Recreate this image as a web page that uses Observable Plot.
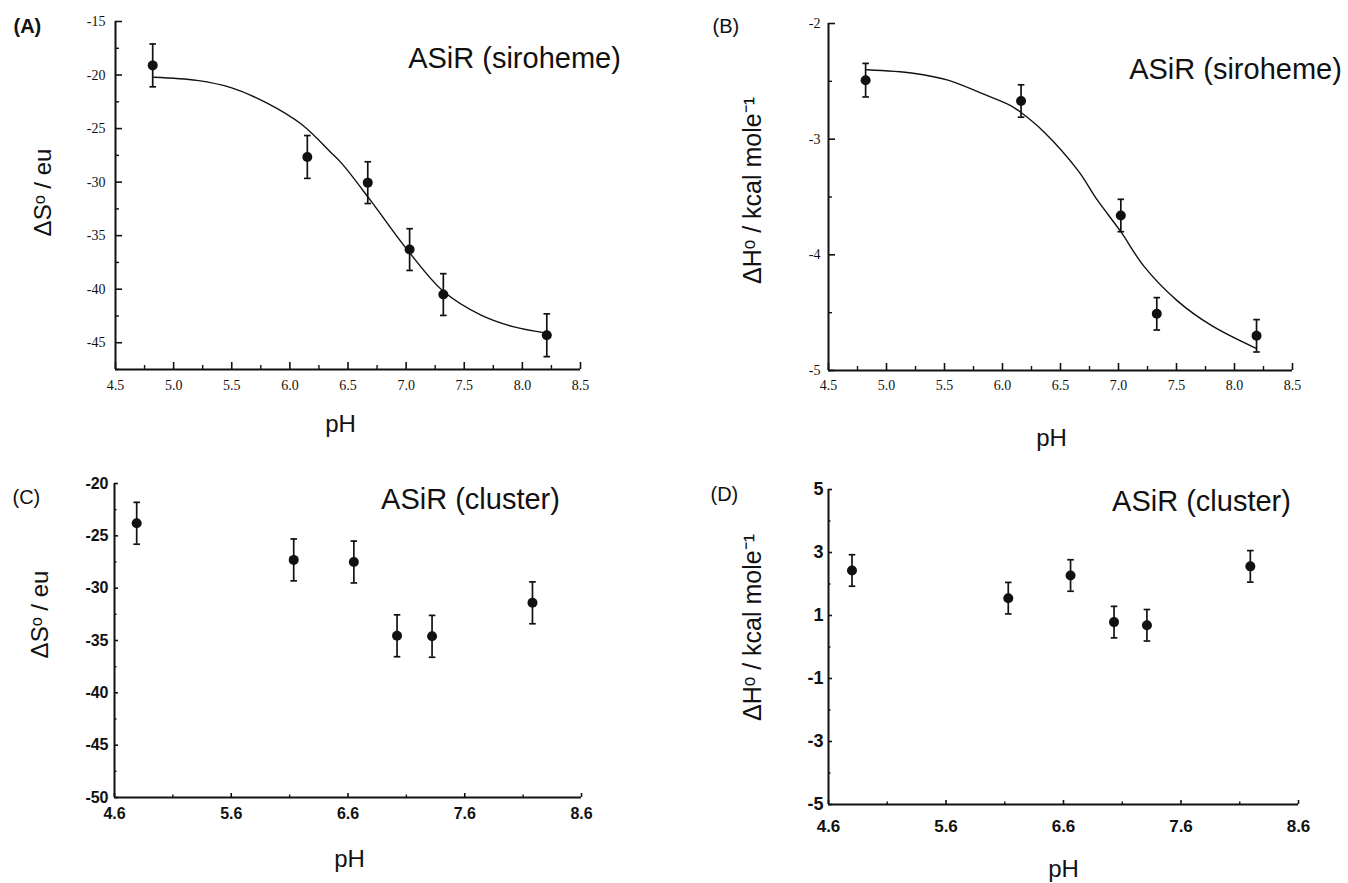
<!DOCTYPE html>
<html><head><meta charset="utf-8">
<script src="https://cdn.jsdelivr.net/npm/d3@7"></script>
<script src="https://cdn.jsdelivr.net/npm/@observablehq/plot@0.6"></script>
<style>
body{margin:0;background:#fff;}
#wrap{position:relative;width:1348px;height:883px;overflow:hidden;background:#fff;}
.panel{position:absolute;}
</style></head><body><div id="wrap"></div>
<script>
// ---------- Panel A: ΔS° (siroheme) ----------
const pHA = [4.82, 6.15, 6.67, 7.03, 7.32, 8.21];
const dSA = [-19.1, -27.65, -30.05, -36.3, -40.5, -44.3];
const errA = [2.0, 2.0, 1.95, 1.95, 1.95, 2.0];
const fitPHA = [4.83, 5.2, 5.5, 5.8, 6.1, 6.35, 6.45, 6.7, 7.03, 7.32, 7.64, 7.92, 8.21];
const fitA = [-20.2, -20.5, -21.2, -22.6, -24.6, -27.2, -28.3, -31.8, -36.6, -40.2, -42.4, -43.5, -44.1];
// ---------- Panel B: ΔH° (siroheme) ----------
const pHB = [4.82, 6.16, 7.02, 7.33, 8.19];
const dHB = [-2.49, -2.67, -3.66, -4.51, -4.70];
const errB = [0.145, 0.14, 0.14, 0.14, 0.14];
const fitPHB = [4.83, 5.23, 5.53, 5.81, 6.07, 6.16, 6.36, 6.65, 6.82, 7.02, 7.22, 7.51, 7.80, 8.19];
const fitB = [-2.40, -2.43, -2.49, -2.60, -2.71, -2.77, -2.94, -3.27, -3.53, -3.80, -4.10, -4.40, -4.61, -4.81];
// ---------- Panel C: ΔS° (cluster) ----------
const pHC = [4.79, 6.135, 6.65, 7.02, 7.32, 8.18];
const dSC = [-23.8, -27.3, -27.5, -34.55, -34.6, -31.4];
const errC = [2.0, 2.0, 2.0, 2.0, 2.0, 2.0];
// ---------- Panel D: ΔH° (cluster) ----------
const pHD = [4.80, 6.13, 6.66, 7.03, 7.31, 8.19];
const dHD = [2.43, 1.55, 2.27, 0.79, 0.69, 2.56];
const errD = [0.5, 0.5, 0.5, 0.5, 0.5, 0.5];

// ---------- ticks ----------
const ticksXAB = [4.5, 5.0, 5.5, 6.0, 6.5, 7.0, 7.5, 8.0, 8.5];
const minorXAB = [4.75, 5.25, 5.75, 6.25, 6.75, 7.25, 7.75, 8.25];
const ticksYA = [-45, -40, -35, -30, -25, -20, -15];
const minorYA = [-47.5, -42.5, -37.5, -32.5, -27.5, -22.5, -17.5];
const ticksYB = [-5, -4, -3, -2];
const minorYB = [-4.5, -3.5, -2.5];
const ticksXCD = [4.6, 5.6, 6.6, 7.6, 8.6];
const minorXCD = [5.1, 6.1, 7.1, 8.1];
const ticksYC = [-50, -45, -40, -35, -30, -25, -20];
const minorYC = [-47.5, -42.5, -37.5, -32.5, -27.5, -22.5];
const ticksYD = [-5, -3, -1, 1, 3, 5];
const minorYD = [-4, -2, 0, 2, 4];

// ---------- labels ----------
const titleSiroheme = "ASiR (siroheme)";
const titleCluster = "ASiR (cluster)";
const labelS = "ΔSᵒ / eu";
const labelH = "ΔHᵒ / kcal mole⁻¹";
const labelX = "pH";

const zip = (xs, ys, es) => xs.map((x, i) => ({x, y: ys[i], e: es[i]}));
const zipLine = (xs, ys) => xs.map((x, i) => ({x, y: ys[i]}));

const capSymbol = {
  draw(context, size) {
    const w = Math.sqrt(size / Math.PI);
    context.moveTo(-w, 0);
    context.lineTo(w, 0);
  }
};

const SANS = "'Liberation Sans', Arial, Helvetica, sans-serif";
const SERIF = "'Liberation Serif', 'Times New Roman', serif";
const INK = "#111";

function txt(s, o) {
  return Plot.text([s], Object.assign({text: d => d, frameAnchor: "top-left", fill: INK, fontFamily: SANS}, o));
}

function panel(c) {
  const pts = zip(c.px, c.py, c.pe);
  const marks = [
    Plot.ruleX([c.xDom[0]], {stroke: INK, strokeWidth: 2}),
    Plot.ruleY([c.yDom[0]], {stroke: INK, strokeWidth: 2}),
    // inward ticks: outward ticks shifted back inside the frame
    Plot.axisX({ticks: c.xMajor, tickSize: c.majorLen, dy: -c.majorLen, text: null, label: null, stroke: INK, strokeWidth: 1.6}),
    Plot.axisX({ticks: c.xMinor, tickSize: c.minorLen, dy: -c.minorLen, text: null, label: null, stroke: INK, strokeWidth: 1.4}),
    Plot.axisY({ticks: c.yMajor, tickSize: c.majorLen, dx: c.majorLen, text: null, label: null, stroke: INK, strokeWidth: 1.6}),
    Plot.axisY({ticks: c.yMinor, tickSize: c.minorLen, dx: c.minorLen, text: null, label: null, stroke: INK, strokeWidth: 1.4}),
    Plot.axisX({ticks: c.xMajor, tickSize: 0, tickPadding: c.xPad, label: null, tickFormat: c.xFmt,
      fontSize: c.xFont, fontFamily: c.tickFamily, fontWeight: c.tickWeight, fill: INK}),
    Plot.axisY({ticks: c.yMajor, tickSize: 0, tickPadding: c.yPad, label: null, tickFormat: c.yFmt,
      fontSize: c.yFont, fontFamily: c.tickFamily, fontWeight: c.tickWeight, fill: INK}),
  ];
  if (c.fit) marks.push(Plot.line(zipLine(c.fit[0], c.fit[1]), {x: "x", y: "y", curve: "catmull-rom", stroke: INK, strokeWidth: 1.4}));
  marks.push(
    Plot.ruleX(pts, {x: "x", y1: d => d.y - d.e, y2: d => d.y + d.e, stroke: INK, strokeWidth: 1.7}),
    Plot.dot(pts, {x: "x", y: d => d.y + d.e, symbol: capSymbol, r: 3.3, stroke: INK, strokeWidth: 1.7, fill: "none"}),
    Plot.dot(pts, {x: "x", y: d => d.y - d.e, symbol: capSymbol, r: 3.3, stroke: INK, strokeWidth: 1.7, fill: "none"}),
    Plot.dot(pts, {x: "x", y: "y", r: 5, fill: INK, stroke: "none"}),
    txt(c.letter, {dx: c.letterPos[0], dy: c.letterPos[1], fontSize: 20, textAnchor: "start", lineAnchor: "bottom", fontWeight: c.letterWeight || "normal"}),
    txt(c.title, {dx: c.titlePos[0], dy: c.titlePos[1], fontSize: 29, textAnchor: "middle", lineAnchor: "bottom"}),
    txt(c.yLabel, {dx: c.yLabelPos[0], dy: c.yLabelPos[1], fontSize: c.yLabelFont, rotate: -90, textAnchor: "middle", lineAnchor: "middle"}),
    txt(labelX, {dx: c.xLabelPos[0], dy: c.xLabelPos[1], fontSize: 24, textAnchor: "middle", lineAnchor: "bottom"})
  );
  const svg = Plot.plot({
    width: c.width, height: c.height,
    marginLeft: c.mL, marginRight: c.mR, marginTop: c.mT, marginBottom: c.mB,
    x: {domain: c.xDom},
    y: {domain: c.yDom},
    style: {background: "transparent", overflow: "visible", fontFamily: SANS},
    marks
  });
  const div = document.createElement("div");
  div.className = "panel";
  div.style.left = c.left + "px";
  div.style.top = c.top + "px";
  div.appendChild(svg);
  document.getElementById("wrap").appendChild(div);
}

const hy = d => String(d).replace("−", "-");
const f1 = d => d3.format(".1f")(d);

// Panel A
panel({
  left: 0, top: 0, width: 674, height: 441, mL: 115, mR: 94, mT: 21, mB: 72,
  xDom: [4.5, 8.5], yDom: [-47.5, -15],
  xMajor: ticksXAB, xMinor: minorXAB, yMajor: ticksYA, yMinor: minorYA,
  xFmt: f1, yFmt: hy, majorLen: 7, minorLen: 4, xPad: 11, yPad: 10,
  xFont: 14, yFont: 14, tickFamily: SERIF, tickWeight: "normal",
  px: pHA, py: dSA, pe: errA, fit: [fitPHA, fitA],
  letter: "(A)", letterPos: [-102, 11], letterWeight: "bold",
  title: titleSiroheme, titlePos: [399, 46],
  yLabel: labelS, yLabelPos: [-72, 171], yLabelFont: 24,
  xLabelPos: [225, 410]
});
// Panel B
panel({
  left: 674, top: 0, width: 674, height: 441, mL: 154, mR: 56, mT: 23, mB: 71,
  xDom: [4.5, 8.5], yDom: [-5, -2],
  xMajor: ticksXAB, xMinor: minorXAB, yMajor: ticksYB, yMinor: minorYB,
  xFmt: f1, yFmt: hy, majorLen: 7, minorLen: 4, xPad: 10, yPad: 8,
  xFont: 14, yFont: 14, tickFamily: SERIF, tickWeight: "normal",
  px: pHB, py: dHB, pe: errB, fit: [fitPHB, fitB],
  letter: "(B)", letterPos: [-116, 9],
  title: titleSiroheme, titlePos: [407, 55],
  yLabel: labelH, yLabelPos: [-76, 167], yLabelFont: 25,
  xLabelPos: [223, 422]
});
// Panel C
panel({
  left: 0, top: 441, width: 674, height: 442, mL: 114, mR: 93, mT: 42, mB: 86,
  xDom: [4.6, 8.6], yDom: [-50, -20],
  xMajor: ticksXCD, xMinor: minorXCD, yMajor: ticksYC, yMinor: minorYC,
  xFmt: f1, yFmt: hy, majorLen: 4, minorLen: 2.5, xPad: 10, yPad: 6,
  xFont: 16, yFont: 16, tickFamily: SANS, tickWeight: "bold",
  px: pHC, py: dSC, pe: errC, fit: null,
  letter: "(C)", letterPos: [-102, 20],
  title: titleCluster, titlePos: [356, 25],
  yLabel: labelS, yLabelPos: [-74, 131], yLabelFont: 24,
  xLabelPos: [235, 383]
});
// Panel D
panel({
  left: 674, top: 441, width: 674, height: 442, mL: 154, mR: 50, mT: 48, mB: 79,
  xDom: [4.6, 8.6], yDom: [-5, 5],
  xMajor: ticksXCD, xMinor: minorXCD, yMajor: ticksYD, yMinor: minorYD,
  xFmt: f1, yFmt: hy, majorLen: 4, minorLen: 2.5, xPad: 15, yPad: 5,
  xFont: 17, yFont: 18, tickFamily: SANS, tickWeight: "bold",
  px: pHD, py: dHD, pe: errD, fit: null,
  letter: "(D)", letterPos: [-118, 11],
  title: titleCluster, titlePos: [373, 21],
  yLabel: labelH, yLabelPos: [-76, 138], yLabelFont: 25,
  xLabelPos: [235, 387]
});
</script>
</body></html>
